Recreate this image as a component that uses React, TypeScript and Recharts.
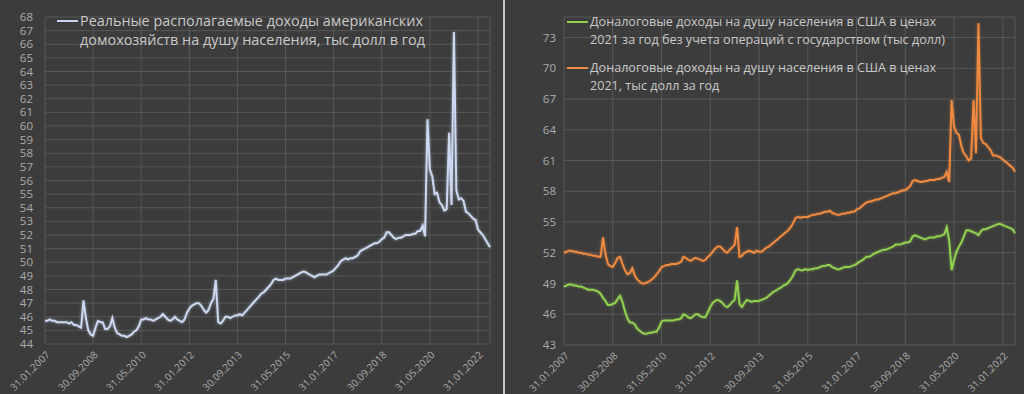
import { CartesianGrid, Legend, Line, LineChart, XAxis, YAxis } from 'recharts';

// monthly, Jan 2007 - Jun 2022
const startYear = 2007;
const monthCount = 186;

const tickLabels = [
  '31.01.2007', '30.09.2008', '31.05.2010', '31.01.2012', '30.09.2013',
  '31.05.2015', '31.01.2017', '30.09.2018', '31.05.2020', '31.01.2022',
];

// Real disposable income per capita, thousand $ per year
const realDisposable = [
  45.7, 45.7, 45.8, 45.7, 45.7, 45.6, 45.6, 45.6, 45.6, 45.6, 45.5, 45.6,
  45.4, 45.4, 45.3, 45.2, 47.2, 45.9, 45.0, 44.7, 44.6, 45.2, 45.7, 45.6,
  45.6, 45.1, 45.1, 45.3, 45.9, 45.2, 44.8, 44.7, 44.6, 44.6, 44.5, 44.6,
  44.7, 44.9, 45.0, 45.3, 45.8, 45.8, 45.9, 45.8, 45.8, 45.7, 45.8, 45.9,
  46.0, 46.2, 46.0, 45.8, 45.7, 45.8, 46.0, 45.8, 45.7, 45.6, 45.8, 46.3,
  46.6, 46.8, 46.9, 47.0, 47.0, 46.8, 46.5, 46.3, 46.5, 47.0, 47.3, 48.7,
  45.6, 45.5, 45.7, 46.0, 46.0, 45.9, 46.0, 46.1, 46.1, 46.2, 46.1, 46.3,
  46.5, 46.7, 46.9, 47.1, 47.3, 47.5, 47.7, 47.8, 48.0, 48.2, 48.4, 48.7,
  48.8, 48.7, 48.7, 48.7, 48.8, 48.8, 48.8, 48.9, 49.0, 49.1, 49.2, 49.3,
  49.3, 49.2, 49.1, 49.0, 48.9, 49.0, 49.1, 49.1, 49.1, 49.1, 49.2, 49.3,
  49.4, 49.6, 49.8, 50.1, 50.2, 50.3, 50.2, 50.3, 50.3, 50.4, 50.5, 50.8,
  50.9, 51.0, 51.1, 51.2, 51.3, 51.4, 51.4, 51.5, 51.7, 51.8, 52.2, 52.2,
  52.0, 51.8, 51.7, 51.8, 51.8, 51.9, 52.0, 52.0, 52.0, 52.1, 52.1, 52.3,
  52.3, 52.7, 51.9, 60.5, 56.8, 56.3, 55.0, 55.1, 54.4, 54.2, 53.8, 53.9,
  59.5, 54.2, 66.9, 55.3, 54.6, 54.7, 54.5, 53.7, 53.6, 53.4, 53.2, 53.1,
  52.4, 52.2, 52.0, 51.7, 51.4, 51.1,
];

// Pre-tax income per capita excl. government transfers (2021 prices)
const pretaxNoGov = [
  48.7, 48.8, 48.9, 48.9, 48.8, 48.8, 48.7, 48.7, 48.6, 48.5, 48.4, 48.4,
  48.4, 48.3, 48.2, 48.0, 47.6, 47.3, 46.9, 46.9, 47.0, 47.1, 47.5, 47.8,
  47.2, 46.3, 45.6, 45.2, 45.2, 45.0, 44.6, 44.4, 44.2, 44.1, 44.1, 44.2,
  44.2, 44.3, 44.3, 44.7, 45.3, 45.4, 45.4, 45.4, 45.4, 45.4, 45.5, 45.5,
  45.6, 46.0, 45.9, 45.7, 45.6, 45.8, 46.0, 46.0, 45.8, 45.7, 45.7, 46.2,
  46.7, 47.1, 47.3, 47.4, 47.3, 47.1, 46.8, 46.7, 46.9, 47.2, 47.4, 49.3,
  47.0, 46.7, 47.1, 47.4, 47.3, 47.2, 47.3, 47.3, 47.3, 47.4, 47.5, 47.6,
  47.8, 48.0, 48.2, 48.3, 48.5, 48.6, 48.8, 48.9, 49.1, 49.4, 49.8, 50.3,
  50.4, 50.3, 50.3, 50.4, 50.3, 50.4, 50.4, 50.5, 50.5, 50.6, 50.7, 50.7,
  50.8, 50.8, 50.6, 50.5, 50.4, 50.4, 50.5, 50.6, 50.6, 50.6, 50.7, 50.8,
  50.9, 51.1, 51.2, 51.4, 51.6, 51.6, 51.7, 51.9, 52.0, 52.1, 52.2, 52.3,
  52.3, 52.4, 52.5, 52.6, 52.8, 52.8, 52.8, 52.9, 53.0, 53.0, 53.1, 53.6,
  53.7, 53.6, 53.5, 53.4, 53.3, 53.4, 53.5, 53.5, 53.5, 53.6, 53.6, 53.7,
  53.8, 54.5, 53.2, 50.3, 51.3, 52.1, 52.6, 53.0, 53.6, 54.2, 54.2, 54.1,
  54.0, 53.9, 53.7, 54.1, 54.3, 54.3, 54.4, 54.5, 54.6, 54.7, 54.8, 54.8,
  54.7, 54.6, 54.5, 54.4, 54.3, 53.9,
];

// Pre-tax income per capita (2021 prices)
const pretaxTotal = [
  52.0, 52.1, 52.2, 52.2, 52.1, 52.1, 52.0, 52.0, 51.9, 51.9, 51.8, 51.8,
  51.7, 51.7, 51.6, 51.6, 53.5, 51.9, 50.9, 50.7, 50.6, 51.0, 51.5, 51.6,
  50.9, 50.3, 49.9, 50.0, 50.5, 49.8, 49.4, 49.2, 49.0, 49.0, 49.1, 49.2,
  49.4, 49.6, 49.9, 50.2, 50.6, 50.7, 50.8, 50.8, 50.9, 50.9, 50.9, 51.0,
  51.1, 51.6, 51.5, 51.3, 51.2, 51.4, 51.5, 51.4, 51.3, 51.2, 51.3, 51.6,
  51.8, 52.1, 52.4, 52.6, 52.6, 52.4, 52.1, 52.0, 52.3, 52.5, 52.8, 54.5,
  51.6, 51.7, 52.0, 52.1, 52.2, 52.1, 52.0, 52.2, 52.1, 52.1, 52.3, 52.5,
  52.6, 52.8, 53.0, 53.2, 53.4, 53.6, 53.8, 54.0, 54.2, 54.5, 54.9, 55.4,
  55.5, 55.4, 55.5, 55.5, 55.5, 55.6, 55.7, 55.7, 55.8, 55.8, 55.9, 56.0,
  56.0, 56.1, 55.9, 55.8, 55.7, 55.7, 55.8, 55.8, 55.9, 55.9, 56.0, 56.0,
  56.2, 56.3, 56.5, 56.7, 56.9, 57.0, 57.0, 57.1, 57.2, 57.2, 57.3, 57.4,
  57.5, 57.6, 57.7, 57.8, 57.8, 57.9, 58.0, 58.1, 58.1, 58.3, 58.5, 59.0,
  59.1, 59.0, 58.9, 58.9, 59.0, 59.0, 59.1, 59.1, 59.1, 59.2, 59.2, 59.3,
  59.4, 59.9, 58.9, 66.9, 64.3, 63.7, 63.5, 62.4, 61.7, 61.4, 61.0, 61.2,
  66.9, 61.7, 74.4, 63.2, 62.7, 62.6, 62.3, 62.0, 61.5, 61.5, 61.4, 61.3,
  61.1, 60.9, 60.7, 60.5, 60.3, 59.9,
];

const leftTicks = [44, 45, 46, 47, 48, 49, 50, 51, 52, 53, 54, 55, 56, 57, 58, 59, 60, 61, 62, 63, 64, 65, 66, 67, 68];
const rightTicks = [43, 46, 49, 52, 55, 58, 61, 64, 67, 70, 73];

const leftLegend = ['Реальные располагаемые доходы американских', 'домохозяйств на душу населения, тыс долл в год'];
const greenLegend = ['Доналоговые доходы на душу населения в США в ценах', '2021 за год без учета операций с государством (тыс долл)'];
const orangeLegend = ['Доналоговые доходы на душу населения в США в ценах', '2021, тыс долл за год'];

const pad = (n: number) => String(n).padStart(2, '0');
const monthEnd = (i: number) => {
  const y = startYear + Math.floor(i / 12);
  const m = i % 12;
  const d = new Date(y, m + 1, 0).getDate();
  return `${pad(d)}.${pad(m + 1)}.${y}`;
};

const data = Array.from({ length: monthCount }, (_, i) => ({
  date: monthEnd(i),
  real: realDisposable[i],
  green: pretaxNoGov[i],
  orange: pretaxTotal[i],
}));

const BG = '#3c3c3c';
const GRID = '#575757';
const TICK = '#ababab';
const TEXT = '#c9c9c9';
const FONT = '"Open Sans", sans-serif';

// rotated date label, its end sits just under the gridline
const DateTick = ({ x, y, payload }: any) => (
  <text
    x={x + 3}
    y={y + 1}
    dy="0.35em"
    textAnchor="end"
    fill={TICK}
    fontSize={10}
    fontFamily={FONT}
    transform={`rotate(-45, ${x + 3}, ${y + 1})`}
  >
    {payload.value}
  </text>
);

function LegendBox({ items, fontSize, lineHeight, gap }: { items: { color: string; lines: string[] }[]; fontSize: number; lineHeight: number; gap: number }) {
  return (
    <div style={{ fontFamily: FONT, fontSize, lineHeight: `${lineHeight}px`, color: TEXT }}>
      {items.map((it, k) => (
        <div key={k} style={{ display: 'flex', alignItems: 'flex-start', marginBottom: gap, whiteSpace: 'nowrap' }}>
          <div style={{ width: 21, height: 2, background: it.color, marginTop: lineHeight / 2 - 1, marginRight: 2 }} />
          <div>
            {it.lines.map((l) => (
              <div key={l}>{l}</div>
            ))}
          </div>
        </div>
      ))}
    </div>
  );
}

export default function App() {
  return (
    <div style={{ width: 1024, height: 394, background: BG, position: 'relative', overflow: 'hidden' }}>
      <style>{`body{margin:0} .glow-l path{filter:drop-shadow(0 0 1.5px rgba(200,215,245,0.6))} .glow-o path{filter:drop-shadow(0 0 1.5px rgba(240,140,60,0.5))} .glow-g path{filter:drop-shadow(0 0 1.5px rgba(150,210,80,0.5))}`}</style>

      {/* left chart */}
      <div style={{ position: 'absolute', left: 0, top: 0 }}>
        <LineChart width={504} height={394} data={data} margin={{ top: 17, right: 14, left: 0, bottom: 0 }}>
          <CartesianGrid stroke={GRID} strokeWidth={1} />
          <XAxis
            dataKey="date"
            ticks={tickLabels}
            interval={0}
            height={50}
            axisLine={false}
            tickLine={false}
            tick={<DateTick />}
          />
          <YAxis
            domain={[44, 68]}
            ticks={leftTicks}
            interval={0}
            width={45}
            axisLine={false}
            tickLine={false}
            tickSize={0}
            tickMargin={12}
            tick={{ fill: TICK, fontSize: 11.5, fontFamily: FONT }}
          />
          <Legend
            verticalAlign="middle"
            align="center"
            layout="horizontal"
            wrapperStyle={{ top: 11, left: 57, width: 'auto' }}
            content={() => (
              <LegendBox items={[{ color: '#c6d4ee', lines: leftLegend }]} fontSize={14.4} lineHeight={19} gap={0} />
            )}
          />
          <Line
            type="linear"
            dataKey="real"
            name={leftLegend.join(' ')}
            className="glow-l"
            stroke="#cdd9f0"
            strokeWidth={2}
            dot={false}
            isAnimationActive={false}
          />
        </LineChart>
      </div>

      {/* separator */}
      <div style={{ position: 'absolute', left: 503, top: 0, width: 2, height: 394, background: '#c4c4c4' }} />

      {/* right chart */}
      <div style={{ position: 'absolute', left: 506, top: 0 }}>
        <LineChart width={518} height={394} data={data} margin={{ top: 17, right: 9, left: 0, bottom: 0 }}>
          <CartesianGrid stroke={GRID} strokeWidth={1} />
          <XAxis
            dataKey="date"
            ticks={tickLabels}
            interval={0}
            height={49}
            axisLine={false}
            tickLine={false}
            tick={<DateTick />}
          />
          <YAxis
            domain={[43, 75]}
            ticks={rightTicks}
            interval={0}
            width={58}
            axisLine={false}
            tickLine={false}
            tickSize={0}
            tickMargin={8}
            tick={{ fill: TICK, fontSize: 11.5, fontFamily: FONT }}
          />
          <Legend
            verticalAlign="middle"
            align="center"
            layout="horizontal"
            wrapperStyle={{ top: 13, left: 61, width: 'auto' }}
            content={() => (
              <LegendBox
                items={[
                  { color: '#92d050', lines: greenLegend },
                  { color: '#ee8a45', lines: orangeLegend },
                ]}
                fontSize={12.6}
                lineHeight={17.5}
                gap={11}
              />
            )}
          />
          <Line
            type="linear"
            dataKey="green"
            name={greenLegend.join(' ')}
            className="glow-g"
            stroke="#92d050"
            strokeWidth={2}
            dot={false}
            isAnimationActive={false}
          />
          <Line
            type="linear"
            dataKey="orange"
            name={orangeLegend.join(' ')}
            className="glow-o"
            stroke="#ef8a40"
            strokeWidth={2}
            dot={false}
            isAnimationActive={false}
          />
        </LineChart>
      </div>
    </div>
  );
}
